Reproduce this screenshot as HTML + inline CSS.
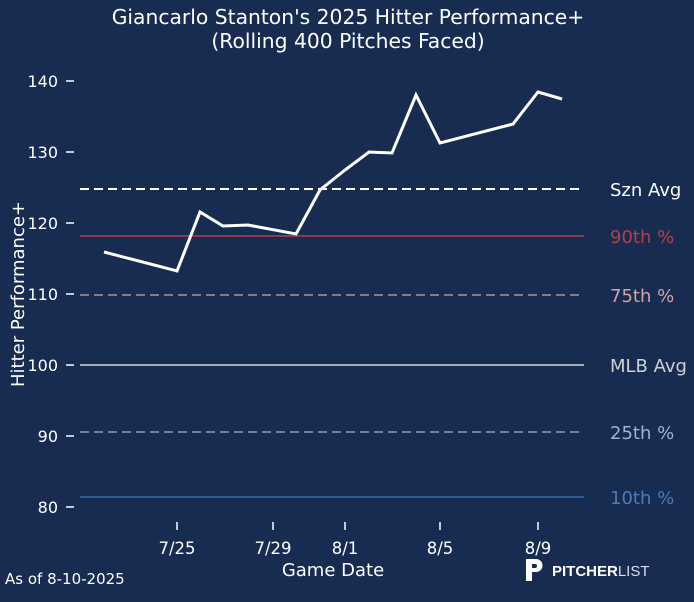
<!DOCTYPE html>
<html><head><meta charset="utf-8"><style>
html,body{margin:0;padding:0;background:#172c50;}
svg{display:block;font-family:"DejaVu Sans","Liberation Sans",sans-serif;}
</style></head><body>
<svg width="694" height="602" viewBox="0 0 694 602">
<rect width="694" height="602" fill="#172c50"/>
<text x="348" y="24" fill="#fff" font-size="20.3" text-anchor="middle">Giancarlo Stanton's 2025 Hitter Performance+</text>
<text x="348" y="48" fill="#fff" font-size="20.3" text-anchor="middle">(Rolling 400 Pitches Faced)</text>
<g fill="#fff" font-size="16" text-anchor="end">
<text x="58" y="87">140</text><text x="58" y="158">130</text><text x="58" y="229">120</text>
<text x="58" y="300">110</text><text x="58" y="371">100</text><text x="58" y="442">90</text><text x="58" y="513">80</text>
</g>
<g stroke="#fff" stroke-width="1.5">
<line x1="66" x2="74" y1="81" y2="81"/><line x1="66" x2="74" y1="152" y2="152"/><line x1="66" x2="74" y1="223" y2="223"/>
<line x1="66" x2="74" y1="294" y2="294"/><line x1="66" x2="74" y1="365" y2="365"/><line x1="66" x2="74" y1="436" y2="436"/><line x1="66" x2="74" y1="507" y2="507"/>
<line x1="177" x2="177" y1="522" y2="530"/><line x1="273" x2="273" y1="522" y2="530"/><line x1="345" x2="345" y1="522" y2="530"/>
<line x1="440" x2="440" y1="522" y2="530"/><line x1="538" x2="538" y1="522" y2="530"/>
</g>
<g fill="#fff" font-size="16.5" text-anchor="middle">
<text x="177" y="554">7/25</text><text x="273" y="554">7/29</text><text x="345" y="554">8/1</text><text x="440" y="554">8/5</text><text x="538" y="554">8/9</text>
<text x="333" y="576" font-size="18">Game Date</text>
</g>
<text transform="translate(24,294) rotate(-90)" fill="#fff" font-size="18" text-anchor="middle">Hitter Performance+</text>
<line x1="80" x2="584" y1="189" y2="189" stroke="#fff" stroke-width="2" stroke-dasharray="9,5"/>
<line x1="80" x2="584" y1="236" y2="236" stroke="#8b3a4c" stroke-width="2"/>
<line x1="80" x2="584" y1="295" y2="295" stroke="#8e7588" stroke-width="2" stroke-dasharray="9,5"/>
<line x1="80" x2="584" y1="365" y2="365" stroke="#a8adb8" stroke-width="2"/>
<line x1="80" x2="584" y1="432" y2="432" stroke="#6e7fa0" stroke-width="2" stroke-dasharray="9,5"/>
<line x1="80" x2="584" y1="497" y2="497" stroke="#2d5c9c" stroke-width="2"/>
<g font-size="18">
<text x="610" y="196" fill="#fff">Szn Avg</text>
<text x="610" y="243" fill="#b0434c">90th %</text>
<text x="610" y="302" fill="#d8a2a4">75th %</text>
<text x="610" y="372" fill="#d0d0d4">MLB Avg</text>
<text x="610" y="439" fill="#a0b2d0">25th %</text>
<text x="610" y="504" fill="#4d7ab8">10th %</text>
</g>
<polyline fill="none" stroke="#fff" stroke-width="3" stroke-linejoin="miter" points="104,252 177,271 200,212 223,226 248,225 296,234 320,190 345,170 369,152 392,153 416,95 440,143 513,124 538,92 562,99"/>
<text x="5" y="584" fill="#fff" font-size="15">As of 8-10-2025</text>
<path d="M526,559 h10 a6.5,6.5 0 0 1 0,13 h-4 v9 h-6 z M532,564 v4 h3 a2,2 0 0 0 0,-4 z" fill="#fff" fill-rule="evenodd"/>
<text x="552" y="576" fill="#fff" font-size="15" font-weight="bold" font-family="Liberation Sans,sans-serif">PITCHER<tspan font-weight="normal" fill="#dde">LIST</tspan></text>
</svg>
</body></html>
